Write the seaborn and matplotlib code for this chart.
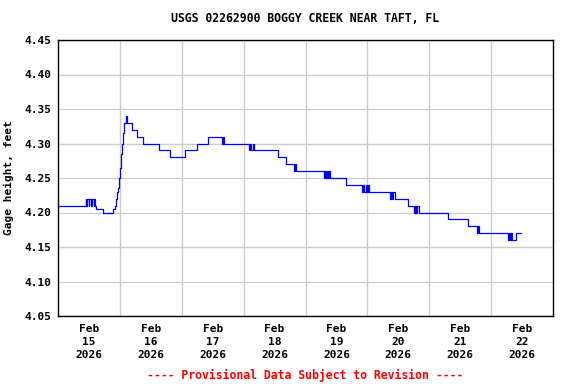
import pandas as pd
import numpy as np
import seaborn as sns
import matplotlib
matplotlib.use("Agg")
import matplotlib.pyplot as plt
import matplotlib.dates as mdates

# gage height readings, hours after 2026-02-15 00:00 (step changes)
hours = [0.0, 10.7, 11.0, 11.4, 12.0, 12.2, 12.8, 13.0, 13.8, 14.0, 14.3, 14.9, 17.3,
         21.5, 22.0, 22.5, 22.9, 23.3, 23.6, 24.0, 24.4, 24.8, 25.2, 25.6, 26.2, 26.4, 26.7,
         28.8, 30.8, 33.1, 39.2, 43.4, 49.4, 53.8, 58.3, 63.8, 64.1, 64.5,
         74.2, 74.6, 74.9, 75.5, 76.0, 85.4, 88.3, 91.7, 92.0, 92.5,
         103.3, 103.6, 103.9, 104.3, 104.7, 105.1, 105.5, 111.9,
         117.9, 118.2, 118.6, 119.6, 120.0, 120.3, 120.6,
         128.7, 129.3, 129.7, 130.1, 130.7, 135.7,
         138.2, 138.6, 139.0, 139.4, 140.0, 151.1, 159.2, 162.6, 162.9, 163.2,
         174.7, 175.0, 175.2, 175.6, 176.1, 177.8, 179.4]
gage_ft = [4.21, 4.22, 4.21, 4.22, 4.21, 4.22, 4.21, 4.22, 4.21, 4.22, 4.21, 4.205, 4.20,
           4.205, 4.21, 4.22, 4.23, 4.235, 4.25, 4.265, 4.285, 4.30, 4.315, 4.33, 4.335, 4.34, 4.33,
           4.32, 4.31, 4.30, 4.29, 4.28, 4.29, 4.30, 4.31, 4.30, 4.31, 4.30,
           4.29, 4.30, 4.29, 4.30, 4.29, 4.28, 4.27, 4.26, 4.27, 4.26,
           4.25, 4.26, 4.25, 4.26, 4.25, 4.26, 4.25, 4.24,
           4.23, 4.24, 4.23, 4.24, 4.23, 4.24, 4.23,
           4.22, 4.23, 4.22, 4.23, 4.22, 4.21,
           4.20, 4.21, 4.20, 4.21, 4.20, 4.19, 4.18, 4.17, 4.18, 4.17,
           4.16, 4.17, 4.16, 4.17, 4.16, 4.17, 4.17]

start = pd.Timestamp("2026-02-15")
end = pd.Timestamp("2026-02-23")
yticks = [4.05, 4.10, 4.15, 4.20, 4.25, 4.30, 4.35, 4.40, 4.45]

df = pd.DataFrame({"time": start + pd.to_timedelta(hours, unit="h"), "gage": gage_ft})

sns.set_style("white")
plt.rcParams["font.family"] = ["DejaVu Sans Mono"]
plt.rcParams["font.weight"] = "bold"
for k in ["text.color", "axes.labelcolor", "xtick.color", "ytick.color"]:
    plt.rcParams[k] = "black"

fig = plt.figure(figsize=(5.76, 3.84), dpi=100)
ax = fig.add_axes([58 / 576, 1 - 316 / 384, 495 / 576, 276 / 384])

sns.lineplot(data=df, x="time", y="gage", ax=ax, color="#0000ff", linewidth=0.9,
             drawstyle="steps-post", estimator=None, zorder=3)

ax.set_xlim(start, end)
ax.set_ylim(4.05, 4.45)
ax.set_yticks(yticks)
ax.yaxis.set_major_formatter(plt.FormatStrFormatter("%.2f"))

# labels sit at noon, grid lines at midnight
noons = pd.date_range("2026-02-15 12:00", periods=8, freq="D")
mids = pd.date_range("2026-02-16", periods=7, freq="D")
ax.set_xticks(noons)
ax.set_xticks(mids, minor=True)
ax.xaxis.set_major_formatter(mdates.DateFormatter("%b\n%d\n%Y"))

ax.grid(False)
ax.grid(True, which="minor", axis="x", color="#cccccc", linewidth=1)
ax.grid(True, which="major", axis="y", color="#cccccc", linewidth=1)
ax.tick_params(axis="x", which="major", length=0, labelsize=8, pad=6)
ax.tick_params(axis="x", which="minor", length=0)
ax.tick_params(axis="y", length=0, labelsize=8, pad=5)
for lbl in ax.get_xticklabels():
    lbl.set_linespacing(1.35)

for s in ax.spines.values():
    s.set_color("black")
    s.set_linewidth(1)

ax.set_xlabel("")
ax.set_ylabel("Gage height, feet", fontsize=8, fontweight="bold", labelpad=7)
fig.text(0.53, 1 - 19 / 384, "USGS 02262900 BOGGY CREEK NEAR TAFT, FL",
         ha="center", va="center", fontsize=8.3, fontweight="bold")
fig.text(0.53, 1 - 375 / 384, "---- Provisional Data Subject to Revision ----",
         ha="center", va="center", fontsize=8.3, fontweight="bold", color="#ff0000")

fig.savefig("out.png", dpi=100)
